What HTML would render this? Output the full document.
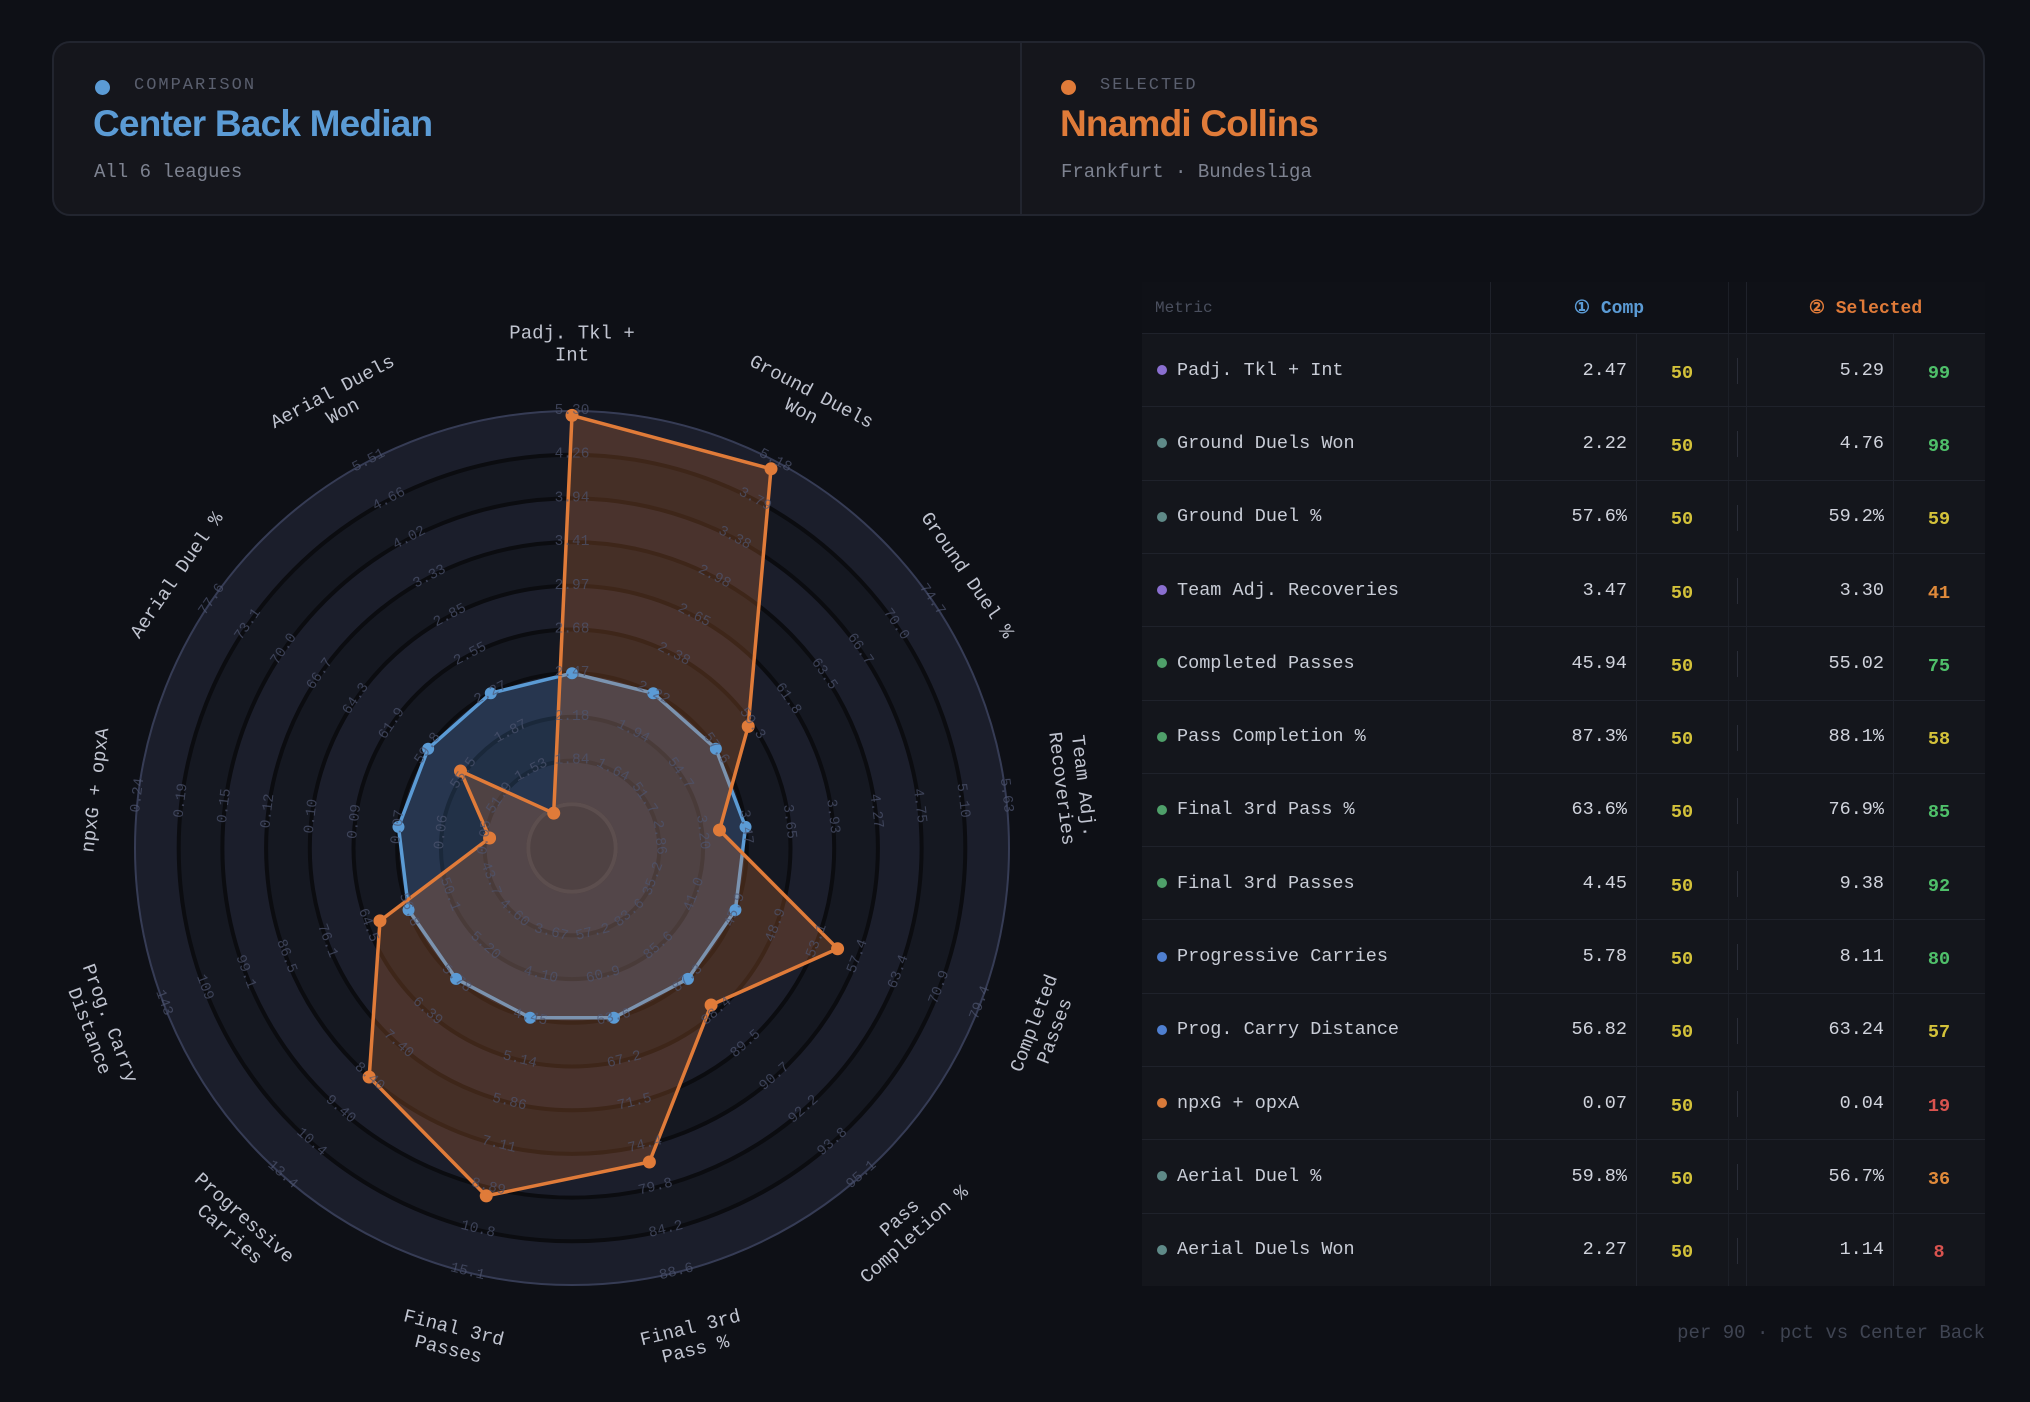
<!DOCTYPE html>
<html><head><meta charset="utf-8">
<style>
*{margin:0;padding:0;box-sizing:border-box}
body{width:2030px;height:1402px;background:#0e1016;overflow:hidden;position:relative;font-family:"Liberation Mono",monospace;color:#c8ccd6}
.card{position:absolute;left:52px;top:41px;width:1933px;height:175px;border:2px solid #22252f;border-radius:18px;background:#15161c}
.div{position:absolute;left:966px;top:0;width:2px;height:100%;background:#22252f}
.lab{position:absolute;font-size:17px;letter-spacing:2px;color:#5a5f6e}
.dot{position:absolute;width:15px;height:15px;border-radius:50%}
.ttl{position:absolute;font-family:"Liberation Sans",sans-serif;font-weight:bold;font-size:37px;letter-spacing:-0.8px}
.sub{position:absolute;font-size:19px;color:#7d8290}
.tbl{position:absolute;left:1142px;top:282px;width:843px;height:1004px;background:#14161c}
.row{position:absolute;left:0;width:843px;height:73.3px;border-top:1px solid #1f222b}
.cell{position:absolute;top:0;height:100%;display:flex;align-items:center}
</style></head><body>
<div class="card">
 <div class="div"></div>
 <div class="dot" style="left:41px;top:37px;background:#5b9bd5"></div>
 <div class="lab" style="left:80px;top:33px">COMPARISON</div>
 <div class="ttl" style="left:39px;top:60px;color:#5b9bd5">Center Back Median</div>
 <div class="sub" style="left:40px;top:118px">All 6 leagues</div>
 <div class="dot" style="left:1007px;top:37px;background:#e07b39"></div>
 <div class="lab" style="left:1046px;top:33px">SELECTED</div>
 <div class="ttl" style="left:1006px;top:60px;color:#e07b39">Nnamdi Collins</div>
 <div class="sub" style="left:1007px;top:118px">Frankfurt · Bundesliga</div>
</div>
<svg id="radar" width="1130" height="1402" style="position:absolute;left:0;top:0"></svg>
<div class="tbl" id="tbl"></div>
<div style="position:absolute;right:45px;top:1322px;font-size:19px;color:#3f4452">per 90 · pct vs Center Back</div>
<script>
const rows=[
["Padj. Tkl + Int","2.47","5.29",99,"#8a6fd0"],
["Ground Duels Won","2.22","4.76",98,"#5f8a88"],
["Ground Duel %","57.6%","59.2%",59,"#5f8a88"],
["Team Adj. Recoveries","3.47","3.30",41,"#8a6fd0"],
["Completed Passes","45.94","55.02",75,"#4fa06a"],
["Pass Completion %","87.3%","88.1%",58,"#4fa06a"],
["Final 3rd Pass %","63.6%","76.9%",85,"#4fa06a"],
["Final 3rd Passes","4.45","9.38",92,"#4fa06a"],
["Progressive Carries","5.78","8.11",80,"#4f7fd0"],
["Prog. Carry Distance","56.82","63.24",57,"#4f7fd0"],
["npxG + opxA","0.07","0.04",19,"#d87a3a"],
["Aerial Duel %","59.8%","56.7%",36,"#5f8a88"],
["Aerial Duels Won","2.27","1.14",8,"#5f8a88"]];
function pc(p){return p>=75?"#4fc06a":p>=50?"#d4c23a":p>=30?"#e08a3a":"#d9534f"}
let h='<div class="row" style="top:0;height:51px;background:#0f1117;border:none">'+
'<div class="cell" style="left:13px;font-size:16px;color:#4a4f5e">Metric</div>'+
'<div class="cell" style="left:348px;width:238px;justify-content:center;font-size:18px;color:#5b9bd5;font-weight:bold">① Comp</div>'+
'<div class="cell" style="left:604px;width:239px;justify-content:center;font-size:18px;color:#e07b39;font-weight:bold">② Selected</div></div>';
[['348',0],['604',0],['494',51],['751',51]].forEach(x=>{h+=`<div style="position:absolute;left:${x[0]}px;top:${x[1]}px;width:1px;height:${1004-x[1]}px;background:#1f222b"></div>`});
h+=`<div style="position:absolute;left:586px;top:0;width:1px;height:1004px;background:#1c1f27"></div>`;
rows.forEach((r,i)=>{const t=51+i*73.3;
h+=`<div class="row" style="top:${t}px">
<div class="cell" style="left:15px"><span style="display:inline-block;width:10px;height:10px;border-radius:50%;background:${r[4]};margin-right:10px"></span><span style="font-size:18.5px;color:#c8ccd6">${r[0]}</span></div>
<div class="cell" style="left:348px;width:137px;justify-content:flex-end;font-size:18.5px;color:#d0d3dc">${r[1]}</div>
<div class="cell" style="left:494px;width:92px;justify-content:center;font-size:18.5px;font-weight:bold;color:#d4c23a;padding-top:6px">50</div>
<div style="position:absolute;left:595px;top:24px;width:1px;height:26px;background:#2a2d38"></div>
<div class="cell" style="left:604px;width:138px;justify-content:flex-end;font-size:18.5px;color:#d0d3dc">${r[2]}</div>
<div class="cell" style="left:751px;width:92px;justify-content:center;font-size:18.5px;font-weight:bold;color:${pc(r[3])};padding-top:6px">${r[3]}</div></div>`});
document.getElementById('tbl').innerHTML=h;

const cx=572,cy=848,R=437,N=13;
const labels=[["Padj. Tkl +","Int"],["Ground Duels","Won"],["Ground Duel %"],["Team Adj.","Recoveries"],["Completed","Passes"],["Pass","Completion %"],["Final 3rd","Pass %"],["Final 3rd","Passes"],["Progressive","Carries"],["Prog. Carry","Distance"],["npxG + opxA"],["Aerial Duel %"],["Aerial Duels","Won"]];
const ticks=[
["1.84","2.18","2.47","2.68","2.97","3.41","3.94","4.26","5.30"],
["1.64","1.94","2.22","2.38","2.65","2.98","3.38","3.79","5.18"],
["51.7","54.7","57.6","59.3","61.8","63.5","66.7","70.0","74.7"],
["2.86","3.20","3.47","3.65","3.93","4.27","4.75","5.10","5.63"],
["35.2","41.0","45.9","48.9","53.1","57.4","63.4","70.9","79.4"],
["83.6","85.6","87.3","88.4","89.5","90.7","92.2","93.8","95.1"],
["57.2","60.9","63.6","67.2","71.5","74.4","79.8","84.2","88.6"],
["3.67","4.10","4.45","5.14","5.86","7.11","8.89","10.8","15.1"],
["4.60","5.20","5.78","6.39","7.40","8.40","9.40","10.4","13.4"],
["43.7","50.1","56.8","64.5","76.1","86.5","99.1","109","143"],
["0.05","0.06","0.07","0.09","0.10","0.12","0.15","0.19","0.24"],
["51.9","55.5","59.8","61.9","64.3","66.7","70.0","73.1","77.6"],
["1.53","1.87","2.27","2.55","2.85","3.33","4.02","4.66","5.51"]];
const sel=[0.99,0.98,0.49,0.34,0.65,0.48,0.74,0.82,0.70,0.47,0.19,0.31,0.09];
let s='';
for(let k=10;k>=1;k--){s+=`<circle cx="${cx}" cy="${cy}" r="${R*k/10}" fill="${k%2==0?'#1b1e2b':'#151821'}" stroke="${k==10?'#363c55':'#0b0c10'}" stroke-width="${k==10?2:4}"/>`}
s+=`<circle cx="${cx}" cy="${cy}" r="${R*0.1}" fill="none" stroke="#2a2c34" stroke-width="4"/>`;
function P(i,f){const a=i*2*Math.PI/N;return [cx+R*f*Math.sin(a),cy-R*f*Math.cos(a)]}
function rot(i){let d=i*360/N;if(d>90&&d<270)d-=180;return d}
const bp=[],op=[];
for(let i=0;i<N;i++){bp.push(P(i,0.4));op.push(P(i,sel[i]))}
const pts=a=>a.map(p=>p[0].toFixed(1)+','+p[1].toFixed(1)).join(' ');
s+=`<polygon points="${pts(bp)}" fill="rgba(80,140,210,0.22)" stroke="#5b9bd5" stroke-width="3.5" stroke-linejoin="round"/>`;
s+=`<polygon points="${pts(op)}" fill="rgba(225,120,55,0.24)" stroke="#e07b39" stroke-width="3.5" stroke-linejoin="round"/>`;
bp.forEach(p=>s+=`<circle cx="${p[0]}" cy="${p[1]}" r="6" fill="#5b9bd5"/>`);
op.forEach(p=>s+=`<circle cx="${p[0]}" cy="${p[1]}" r="6.5" fill="#e07b39"/>`);
for(let i=0;i<N;i++){for(let k=0;k<9;k++){const p=P(i,(k+2)/10);
s+=`<text x="${p[0]}" y="${p[1]}" transform="rotate(${rot(i)} ${p[0]} ${p[1]})" text-anchor="middle" dominant-baseline="central" font-size="14.5" fill="#4e5571" fill-opacity="0.7" font-family="Liberation Mono, monospace">${ticks[i][k]}</text>`}}
for(let i=0;i<N;i++){const L=labels[i];const f=L.length>1?1.155:1.1;const p=P(i,f);
let t=`<text transform="translate(${p[0]} ${p[1]}) rotate(${rot(i)})" text-anchor="middle" font-size="19" fill="#c0c4d0" font-family="Liberation Mono, monospace">`;
L.forEach((l,j)=>{const y=(j-(L.length-1)/2)*22+6;t+=`<tspan x="0" y="${y}">${l}</tspan>`});
s+=t+'</text>'}
document.getElementById('radar').innerHTML=s;
</script>
</body></html>
